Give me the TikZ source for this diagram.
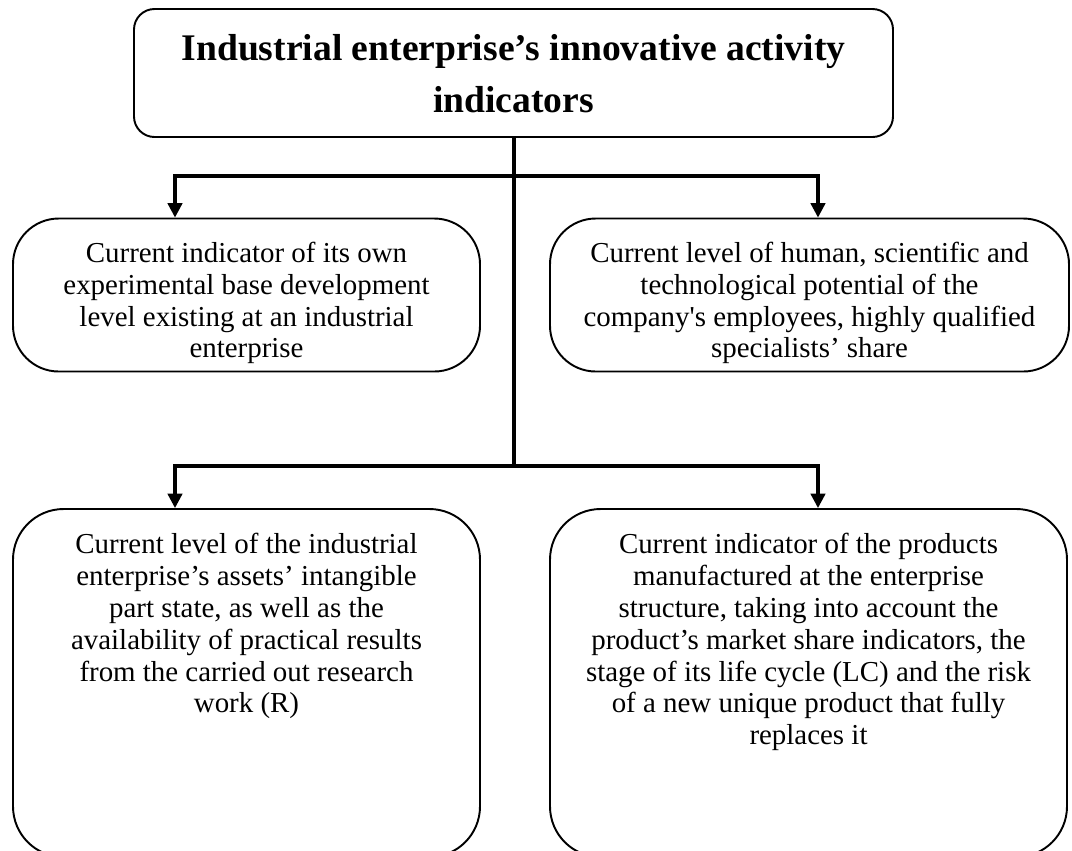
\documentclass[tikz,border=0pt]{standalone}
\usepackage{fontspec}
\setmainfont{Liberation Serif}
\usetikzlibrary{arrows.meta}
\def\pxu{0.415}
\tikzset{
  box/.style={draw, line width=0.8pt, inner sep=0pt, fill=white},
  bodytext/.style={align=center, inner sep=0pt, font=\fontsize{12}{13.2}\selectfont},
  titletext/.style={align=center, inner sep=0pt, font=\fontsize{15.6}{21.5}\selectfont\bfseries},
  trunk/.style={line width=1.3pt},
  arr/.style={line width=1.3pt, -{Triangle[length=6pt,width=6pt]}}
}
\begin{document}
\begin{tikzpicture}[x=\pxu pt, y=-\pxu pt]
\clip (0,0) rectangle (1072,850);
\fill[white] (0,0) rectangle (1072,850);

% boxes
\node[box, rounded corners=8.5pt, minimum width={759*\pxu pt}, minimum height={128*\pxu pt}] (top) at (513.5,73) {};
\node[box, rounded corners=19pt, minimum width={467*\pxu pt}, minimum height={153*\pxu pt}] (b2) at (246.5,295) {};
\node[box, rounded corners=19pt, minimum width={519*\pxu pt}, minimum height={153*\pxu pt}] (b3) at (809.5,295) {};
\node[box, rounded corners=21pt, minimum width={467*\pxu pt}, minimum height={348*\pxu pt}] (b4) at (246.5,683) {};
\node[box, rounded corners=21pt, minimum width={517*\pxu pt}, minimum height={348*\pxu pt}] (b5) at (808.5,683) {};

% texts
\node[titletext] (t1) at ([yshift={-1*\pxu pt}]top.center) {Industrial enterprise’s innovative activity\\indicators};
\node[bodytext, anchor=north] (t2) at ([yshift={-24*\pxu pt}]b2.north) {Current indicator of its own\\experimental base development\\level existing at an industrial\\enterprise};
\node[bodytext, anchor=north] (t3) at ([yshift={-24*\pxu pt}]b3.north) {Current level of human, scientific and\\technological potential of the\\company\textquotesingle s employees, highly qualified\\specialists’ share};
\node[bodytext, anchor=north] (t4) at ([yshift={-25*\pxu pt}]b4.north) {Current level of the industrial\\enterprise’s assets’ intangible\\part state, as well as the\\availability of practical results\\from the carried out research\\work (R)};
\node[bodytext, anchor=north] (t5) at ([yshift={-25*\pxu pt}]b5.north) {Current indicator of the products\\manufactured at the enterprise\\structure, taking into account the\\product’s market share indicators, the\\stage of its life cycle (LC) and the risk\\of a new unique product that fully\\replaces it};

% junctions
\coordinate (j1) at (514,176);
\coordinate (j1l) at (175,176);
\coordinate (j1r) at (818,176);
\coordinate (j2) at (514,466);
\coordinate (j2l) at (175,466);
\coordinate (j2r) at (818,466);

% connectors
\draw[trunk] (top.south -| j1) -- (j2);
\draw[arr] (j1) -- (j1l) -- (j1l |- b2.north);
\draw[arr] (j1) -- (j1r) -- (j1r |- b3.north);
\draw[arr] (j2) -- (j2l) -- (j2l |- b4.north);
\draw[arr] (j2) -- (j2r) -- (j2r |- b5.north);
\end{tikzpicture}
\end{document}
